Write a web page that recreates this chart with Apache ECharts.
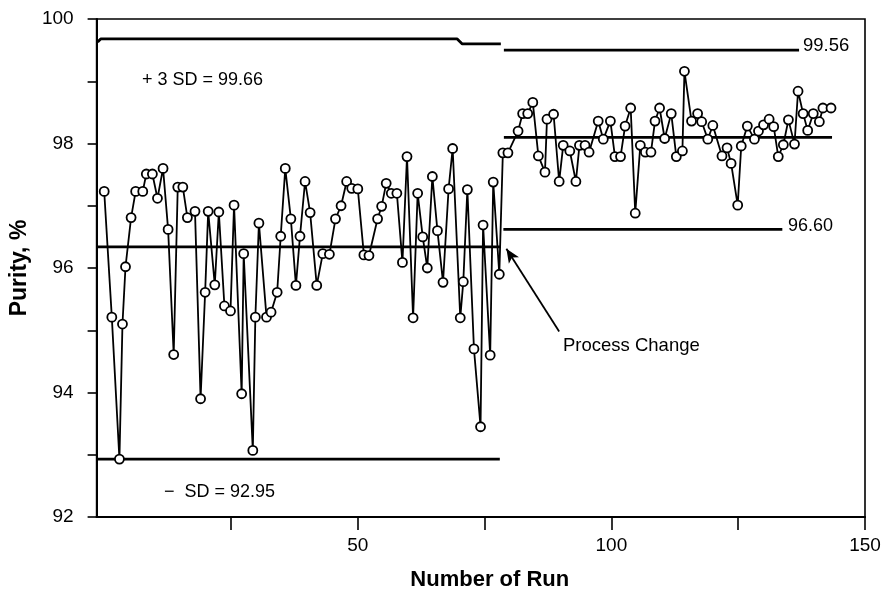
<!DOCTYPE html>
<html>
<head>
<meta charset="utf-8">
<script src="https://cdn.jsdelivr.net/npm/echarts@6/dist/echarts.min.js"></script>
<style>
  html, body { margin: 0; padding: 0; background: #fff; }
  #chart { width: 884px; height: 596px; }
</style>
</head>
<body>
<div id="chart"></div>
<script>
var chart = echarts.init(document.getElementById('chart'));

var FONT = 'Liberation Sans, Arial, sans-serif';

// run number and purity %
var runs = [
    0.0, 1.5, 3.0, 3.6, 4.2, 5.3, 6.2, 7.6, 8.3, 9.5,
    10.5, 11.6, 12.6, 13.7, 14.5, 15.5, 16.4, 17.9, 19.0, 19.9,
    20.5, 21.8, 22.6, 23.7, 24.9, 25.6, 27.1, 27.5, 29.3, 29.8,
    30.5, 32.0, 32.9, 34.1, 34.8, 35.7, 36.8, 37.8, 38.6, 39.6,
    40.6, 41.9, 43.1, 44.4, 45.6, 46.7, 47.8, 48.8, 50.0, 51.2,
    52.2, 53.9, 54.7, 55.6, 56.6, 57.7, 58.8, 59.7, 60.9, 61.8,
    62.8, 63.7, 64.7, 65.7, 66.8, 67.9, 68.7, 70.2, 70.8, 71.6,
    72.9, 74.2, 74.7, 76.1, 76.7, 77.9, 78.6, 79.6, 81.6, 82.5,
    83.5, 84.5, 85.6, 86.9, 87.3, 88.6, 89.7, 90.5, 91.8, 93.0,
    93.7, 94.8, 95.6, 97.4, 98.4, 99.8, 100.7, 101.8, 102.7, 103.8,
    104.7, 105.7, 106.7, 107.8, 108.6, 109.5, 110.5, 111.8, 112.8, 114.0,
    114.4, 115.8, 117.0, 117.8, 119.0, 120.0, 121.8, 122.8, 123.6, 124.9,
    125.6, 126.8, 128.2, 129.0, 130.0, 131.1, 132.0, 132.9, 133.9, 134.9,
    136.1, 136.8, 137.8, 138.7, 139.8, 141.0, 141.7, 143.3
];
var purity = [
    97.23, 95.21, 92.93, 95.10, 96.02, 96.81, 97.23, 97.23, 97.51, 97.51,
    97.12, 97.60, 96.62, 94.61, 97.30, 97.30, 96.81, 96.91, 93.90, 95.61,
    96.91, 95.73, 96.90, 95.39, 95.31, 97.01, 93.98, 96.23, 93.07, 95.21,
    96.72, 95.21, 95.29, 95.61, 96.51, 97.60, 96.79, 95.72, 96.51, 97.39,
    96.89, 95.72, 96.23, 96.22, 96.79, 97.00, 97.39, 97.28, 97.27, 96.21,
    96.20, 96.79, 96.99, 97.36, 97.20, 97.20, 96.09, 97.79, 95.20, 97.20,
    96.50, 96.00, 97.47, 96.60, 95.77, 97.27, 97.92, 95.20, 95.78, 97.26,
    94.70, 93.45, 96.69, 94.60, 97.38, 95.90, 97.85, 97.85, 98.20, 98.48,
    98.48, 98.66, 97.80, 97.54, 98.39, 98.47, 97.39, 97.97, 97.88, 97.39,
    97.97, 97.97, 97.86, 98.36, 98.07, 98.36, 97.79, 97.79, 98.28, 98.57,
    96.88, 97.97, 97.86, 97.86, 98.36, 98.57, 98.08, 98.48, 97.79, 97.88,
    99.16, 98.36, 98.48, 98.35, 98.07, 98.29, 97.80, 97.93, 97.68, 97.01,
    97.96, 98.28, 98.07, 98.20, 98.30, 98.39, 98.27, 97.79, 97.98, 98.38,
    97.99, 98.84, 98.48, 98.21, 98.48, 98.35, 98.57, 98.57
];

// control limit / mean lines  [run, purity]
var upperBefore = [[-1.3, 99.63], [-0.7, 99.68], [69.6, 99.68], [70.6, 99.60], [78.2, 99.60]];
var upperAfter = [[78.8, 99.50], [137.0, 99.50]];
var lowerBefore = [[-1.5, 92.93], [78.0, 92.93]];
var meanBefore = [[-1.5, 96.34], [78.1, 96.34]];
var meanAfter = [[78.8, 98.10], [143.5, 98.10]];
var lowerAfter = [[78.7, 96.62], [133.7, 96.62]];

// arrow for "Process Change"
var arrowFrom = [89.7, 94.98];
var arrowTo = [79.3, 96.31];

var xTicks = [25, 50, 75, 100, 125, 150];
var xLabels = [50, 100, 150];

var points = runs.map(function (r, i) { return [r, purity[i]]; });

function refLine(data) {
    return {
        type: 'line',
        data: data,
        symbol: 'none',
        silent: true,
        z: 1,
        lineStyle: { color: '#000', width: 2.8 }
    };
}

var option = {
    animation: false,
    backgroundColor: '#fff',
    textStyle: { fontFamily: FONT, color: '#000' },
    grid: {
        left: 95, right: 19, top: 19, bottom: 76,
        show: true, borderColor: '#000', borderWidth: 1.6
    },
    xAxis: {
        type: 'value',
        min: -1.5,
        max: 150,
        name: 'Number of Run',
        nameLocation: 'middle',
        nameGap: 52,
        nameTextStyle: { fontFamily: FONT, fontSize: 22, fontWeight: 'bold', color: '#000', padding: [0, 0, 0, 18] },
        axisLine: { onZero: false, lineStyle: { color: '#000', width: 2 } },
        axisTick: { show: true, inside: false, length: 13, customValues: xTicks, lineStyle: { color: '#000', width: 1.6 } },
        axisLabel: { customValues: xLabels, margin: 19, fontSize: 19, color: '#000', fontFamily: FONT },
        splitLine: { show: false }
    },
    yAxis: {
        type: 'value',
        min: 92,
        max: 100,
        interval: 1,
        name: 'Purity, %',
        nameLocation: 'middle',
        nameGap: 62,
        nameTextStyle: { fontFamily: FONT, fontSize: 23, fontWeight: 'bold', color: '#000' },
        axisLine: { show: true, onZero: false, lineStyle: { color: '#000', width: 2 } },
        axisTick: { show: true, length: 9, lineStyle: { color: '#000', width: 1.6 } },
        axisLabel: {
            margin: 23, fontSize: 19, color: '#000', fontFamily: FONT,
            formatter: function (v) { return v % 2 === 0 ? String(v) : ''; }
        },
        splitLine: { show: false }
    },
    series: [
        refLine(upperBefore),
        refLine(upperAfter),
        refLine(lowerBefore),
        refLine(meanBefore),
        refLine(meanAfter),
        refLine(lowerAfter),
        {
            type: 'line',
            data: points,
            z: 3,
            symbol: 'circle',
            symbolSize: 9,
            showAllSymbol: true,
            itemStyle: { color: '#fff', borderColor: '#000', borderWidth: 1.8 },
            lineStyle: { color: '#000', width: 1.8 },
            markLine: {
                silent: true,
                symbol: ['none', 'arrow'],
                symbolSize: [9, 14],
                label: { show: false },
                lineStyle: { color: '#000', width: 1.8, type: 'solid' },
                data: [[{ coord: arrowFrom }, { coord: arrowTo }]]
            }
        }
    ],
    graphic: [
        { type: 'text', left: 142, top: 71, style: { text: '+ 3 SD = 99.66', font: '18px ' + FONT, fill: '#000' } },
        { type: 'text', left: 164, top: 483, style: { text: '\u2212  SD = 92.95', font: '18px ' + FONT, fill: '#000' } },
        { type: 'text', left: 803, top: 36, style: { text: '99.56', font: '18.5px ' + FONT, fill: '#000' } },
        { type: 'text', left: 788, top: 217, style: { text: '96.60', font: '18px ' + FONT, fill: '#000' } },
        { type: 'text', left: 563, top: 336, style: { text: 'Process Change', font: '18.5px ' + FONT, fill: '#000' } }
    ]
};

chart.setOption(option);
</script>
</body>
</html>
